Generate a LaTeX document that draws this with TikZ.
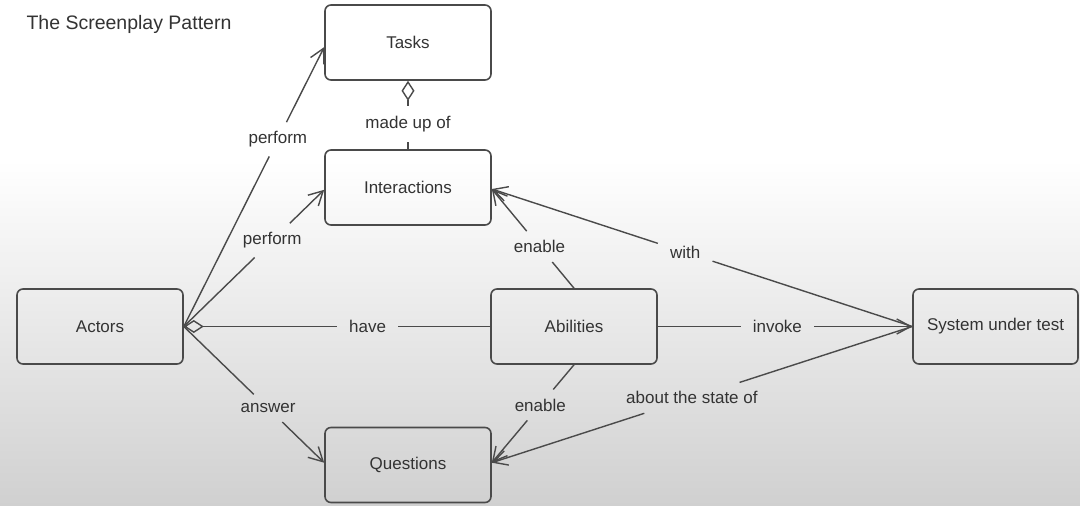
\documentclass[tikz,border=0pt]{standalone}
\usepackage{fontspec}
\setmainfont{Liberation Sans}
\usetikzlibrary{arrows.meta,calc}
\definecolor{edgecol}{HTML}{4A4A4A}
\definecolor{txtcol}{HTML}{333333}
\definecolor{bgbottom}{HTML}{D0D0D0}
\tikzset{
  box/.style={draw=edgecol, line width=1.6pt, rounded corners=6pt, minimum width=166pt, minimum height=75pt, inner sep=0pt, text=txtcol, font=\fontsize{17}{20}\selectfont},
  lbl/.style={text=txtcol, font=\fontsize{17}{20}\selectfont, inner xsep=12pt, inner ysep=9pt},
  conn/.style={draw=edgecol, line width=1.4pt},
  tip/.style={-{Straight Barb[length=14pt,width=15pt]}},
  dia/.style={{Diamond[open,length=20pt,width=13pt]}-},
}
\begin{document}
\begin{tikzpicture}[x=1pt,y=-1pt]
\useasboundingbox (0,0) rectangle (1080,506);
\fill[white] (0,0) rectangle (1080,161);
\shade[top color=white, bottom color=bgbottom] (0,160) rectangle (1080,506);

\node[anchor=west, text=txtcol, font=\fontsize{19.5}{22}\selectfont] (title) at (23,24) {The Screenplay Pattern};

\node[box] (Tasks) at (408,42.5) {Tasks};
\node[box] (Interactions) at (408,187.5) {Interactions};
\node[box] (Actors) at (100,326.5) {Actors};
\node[box] (Abilities) at (574,326.5) {Abilities};
\node[box, minimum width=165pt] (SUT) at (995.5,326.5) {System under test};
\node[box] (Questions) at (408,465) {Questions};

% attachment points
\coordinate (tL) at ($(Tasks.north west)!0.56!(Tasks.south west)$);
\coordinate (iL) at ($(Interactions.north west)!0.53!(Interactions.south west)$);
\coordinate (iR) at ($(Interactions.north east)!0.52!(Interactions.south east)$);
\coordinate (qL) at ($(Questions.north west)!0.47!(Questions.south west)$);
\coordinate (qR) at ($(Questions.north east)!0.47!(Questions.south east)$);

% labels
\node[lbl] (lperf1) at ($(Actors.east)!0.67!(tL)$) {perform};
\node[lbl] (lperf2) at ($(Actors.east)!0.63!(iL)$) {perform};
\node[lbl] (lans) at ($(Actors.east)!0.60!(qL)$) {answer};
\node[lbl] (lhave) at ($(Actors.east)!0.60!(Abilities.west)$) {have};
\node[lbl, inner ysep=10pt] (lmade) at ($(Tasks.south)!0.63!(Interactions.north)$) {made up of};
\node[lbl] (len1) at ($(Abilities.north)!0.42!(iR)$) {enable};
\node[lbl] (len2) at ($(Abilities.south)!0.41!(qR)$) {enable};
\node[lbl] (linv) at ($(Abilities.east)!0.47!(SUT.west)$) {invoke};
\node[lbl] (lwith) at ($(SUT.west)!0.54!(iR)$) {with};
\node[lbl] (labout) at ($(SUT.west)!0.524!(qR)$) {about the state of};

% connectors
\draw[conn] (Actors.east) -- (lperf1);
\draw[conn,tip] (lperf1) -- (tL);
\draw[conn] (Actors.east) -- (lperf2);
\draw[conn,tip] (lperf2) -- (iL);
\draw[conn] (Actors.east) -- (lans);
\draw[conn,tip] (lans) -- (qL);
\draw[conn,dia] (Actors.east) -- (lhave);
\draw[conn] (lhave) -- (Abilities.west);
\draw[conn,dia] (Tasks.south) -- (lmade);
\draw[conn] (lmade) -- (Interactions.north);
\draw[conn] (Abilities.north) -- (len1);
\draw[conn,tip] (len1) -- (iR);
\draw[conn] (Abilities.south) -- (len2);
\draw[conn,tip] (len2) -- (qR);
\draw[conn] (Abilities.east) -- (linv);
\draw[conn,tip] (linv) -- (SUT.west);
\draw[conn] (SUT.west) -- (lwith);
\draw[conn,tip] (lwith) -- (iR);
\draw[conn] (SUT.west) -- (labout);
\draw[conn,tip] (labout) -- (qR);
\end{tikzpicture}
\end{document}
